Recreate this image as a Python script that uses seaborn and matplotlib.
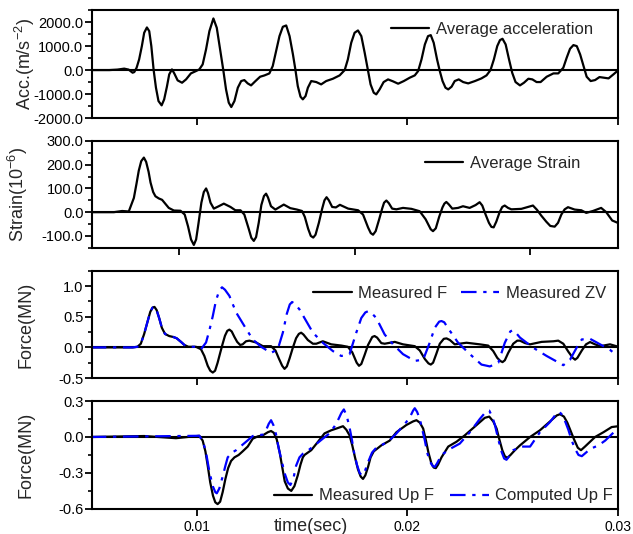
import matplotlib
matplotlib.use('Agg')
from matplotlib import pyplot as plt
from matplotlib.ticker import AutoMinorLocator, FormatStrFormatter, NullFormatter
import seaborn as sns

# ---- data ----
acc_t = [0.00495, 0.00583, 0.00622, 0.00654, 0.00675, 0.00694, 0.00702, 0.00713, 0.00725, 0.00738,
         0.00749, 0.00762, 0.00773, 0.00783, 0.00794, 0.00805, 0.00817, 0.00832, 0.00844, 0.00857,
         0.00868, 0.00881, 0.00892, 0.00908, 0.00929, 0.00948, 0.00971, 0.00995, 0.01011, 0.01027,
         0.01043, 0.01059, 0.01078, 0.01094, 0.01110, 0.01125, 0.01138, 0.01151, 0.01163, 0.01178,
         0.01194, 0.01210, 0.01225, 0.01241, 0.01257, 0.01278, 0.01300, 0.01321, 0.01344, 0.01360,
         0.01376, 0.01392, 0.01408, 0.01424, 0.01440, 0.01456, 0.01468, 0.01479, 0.01492, 0.01503,
         0.01516, 0.01527, 0.01543, 0.01567, 0.01590, 0.01614, 0.01646, 0.01678, 0.01702, 0.01717,
         0.01733, 0.01749, 0.01765, 0.01781, 0.01797, 0.01813, 0.01825, 0.01840, 0.01852, 0.01868,
         0.01887, 0.01908, 0.01932, 0.01956, 0.01983, 0.02011, 0.02035, 0.02051, 0.02067, 0.02083,
         0.02098, 0.02111, 0.02125, 0.02141, 0.02154, 0.02167, 0.02181, 0.02194, 0.02210, 0.02225,
         0.02244, 0.02265, 0.02289, 0.02321, 0.02352, 0.02376, 0.02395, 0.02411, 0.02427, 0.02440,
         0.02452, 0.02467, 0.02483, 0.02498, 0.02514, 0.02535, 0.02554, 0.02575, 0.02594, 0.02614,
         0.02633, 0.02662, 0.02694, 0.02717, 0.02741, 0.02757, 0.02773, 0.02789, 0.02805, 0.02821,
         0.02837, 0.02852, 0.02871, 0.02892, 0.02913, 0.02935, 0.02956, 0.02979, 0.03003]
acc_v = [0, 0, 20, 60, 20, -110, -83, 97, 444, 1000,
         1556, 1778, 1625, 1000, 0, -736, -1292, -1472, -1222, -694,
         -180, 28, -139, -430, -528, -389, -139, -42, 28, 236,
         861, 1625, 2153, 1764, 861, 0, -806, -1361, -1542, -1292,
         -736, -458, -417, -556, -639, -458, -278, -222, -139, 167,
         792, 1417, 1806, 1861, 1417, 653, 0, -667, -1111, -1222,
         -1083, -736, -458, -500, -597, -458, -361, -222, 0, 444,
         1139, 1556, 1653, 1417, 722, -42, -597, -944, -1014, -806,
         -500, -389, -472, -569, -458, -319, -222, -42, 444, 1069,
         1417, 1458, 1139, 444, -42, -458, -736, -806, -694, -458,
         -389, -500, -556, -458, -347, -222, 0, 444, 1000, 1250,
         1306, 1069, 444, -111, -500, -639, -528, -361, -389, -500,
         -500, -278, -139, -139, 97, 514, 889, 1042, 1000, 653,
         167, -278, -458, -417, -292, -319, -347, -181, 0]

strain_t = [0.00497, 0.00626, 0.00673, 0.00711, 0.00740, 0.00755, 0.00768, 0.00782, 0.00797, 0.00810,
            0.00824, 0.00835, 0.00850, 0.00863, 0.00882, 0.00901, 0.00920, 0.00939, 0.00968, 0.01006,
            0.01030, 0.01049, 0.01066, 0.01082, 0.01095, 0.01108, 0.01125, 0.01139, 0.01152, 0.01163,
            0.01177, 0.01196, 0.01224, 0.01253, 0.01291, 0.01319, 0.01348, 0.01370, 0.01395, 0.01410,
            0.01424, 0.01437, 0.01452, 0.01467, 0.01482, 0.01494, 0.01505, 0.01522, 0.01547, 0.01595,
            0.01632, 0.01670, 0.01699, 0.01715, 0.01734, 0.01749, 0.01763, 0.01776, 0.01795, 0.01814,
            0.01827, 0.01839, 0.01852, 0.01871, 0.01892, 0.01915, 0.01962, 0.02019, 0.02047, 0.02076,
            0.02091, 0.02104, 0.02119, 0.02139, 0.02156, 0.02167, 0.02180, 0.02194, 0.02213, 0.02237,
            0.02275, 0.02323, 0.02370, 0.02404, 0.02433, 0.02446, 0.02462, 0.02481, 0.02500, 0.02511,
            0.02522, 0.02536, 0.02556, 0.02589, 0.02617, 0.02655, 0.02689, 0.02712, 0.02727, 0.02746,
            0.02765, 0.02779, 0.02792, 0.02807, 0.02826, 0.02841, 0.02855, 0.02874, 0.02893, 0.02950,
            0.02988, 0.03016, 0.03039, 0.03064, 0.03092, 0.03115, 0.03140, 0.03159, 0.03178, 0.03197,
            0.03216, 0.03254, 0.03292, 0.03320, 0.03358, 0.03405, 0.03434, 0.03468, 0.03500]
strain_v = [0, 0, 5, 3, 60, 120, 175, 215, 230, 212,
            170, 125, 85, 67, 58, 52, 35, 18, 7, 6,
            -10, -60, -115, -138, -115, -50, 40, 85, 100, 80,
            40, 15, 25, 36, 22, 8, 8, -10, -70, -108,
            -121, -105, -45, 30, 68, 78, 62, 25, 11, 32,
            17, 11, 5, -20, -70, -100, -107, -95, -45, 15,
            50, 63, 50, 22, 20, 31, 15, 8, -10, -65,
            -88, -95, -80, -30, 15, 40, 49, 38, 15, 12,
            18, 14, 4, -30, -72, -80, -68, -20, 20, 36,
            43, 33, 15, 18, 25, 18, 30, 42, 28, -10,
            -45, -62, -64, -40, 0, 22, 28, 18, 12, 14,
            22, 28, 10, -15, -40, -58, -61, -45, -10, 12,
            21, 11, 8, -3, 5, 18, 0, -35, -45]

f_t = [0.00495, 0.00694, 0.00717, 0.00733, 0.00749, 0.00765, 0.00778, 0.00789, 0.00798, 0.00808,
       0.00821, 0.00833, 0.00848, 0.00868, 0.00887, 0.00903, 0.00924, 0.00940, 0.00959, 0.00995,
       0.01019, 0.01035, 0.01051, 0.01063, 0.01075, 0.01086, 0.01098, 0.01111, 0.01122, 0.01133,
       0.01144, 0.01154, 0.01165, 0.01178, 0.01191, 0.01205, 0.01217, 0.01233, 0.01249, 0.01281,
       0.01313, 0.01352, 0.01373, 0.01389, 0.01405, 0.01416, 0.01427, 0.01440, 0.01456, 0.01471,
       0.01484, 0.01495, 0.01506, 0.01527, 0.01551, 0.01567, 0.01598, 0.01638, 0.01686, 0.01717,
       0.01738, 0.01759, 0.01770, 0.01781, 0.01797, 0.01813, 0.01833, 0.01844, 0.01856, 0.01876,
       0.01892, 0.01940, 0.01979, 0.02035, 0.02059, 0.02083, 0.02100, 0.02111, 0.02122, 0.02138,
       0.02154, 0.02173, 0.02186, 0.02202, 0.02225, 0.02281, 0.02344, 0.02384, 0.02408, 0.02427,
       0.02441, 0.02452, 0.02463, 0.02479, 0.02503, 0.02522, 0.02535, 0.02559, 0.02583, 0.02638,
       0.02694, 0.02717, 0.02741, 0.02765, 0.02786, 0.02797, 0.02808, 0.02829, 0.02849, 0.02868,
       0.02892, 0.02916, 0.02963, 0.03003]
f_v = [0, 0, 0.01, 0.06, 0.22, 0.42, 0.58, 0.65, 0.66, 0.61,
       0.47, 0.32, 0.22, 0.185, 0.17, 0.15, 0.09, 0.04, 0.01, 0.01,
       -0.03, -0.14, -0.30, -0.38, -0.41, -0.38, -0.25, -0.08, 0.06, 0.19,
       0.27, 0.29, 0.26, 0.17, 0.09, 0.04, 0.05, 0.10, 0.11, 0.08,
       0.02, 0.02, -0.05, -0.18, -0.30, -0.35, -0.31, -0.18, 0.0, 0.15,
       0.22, 0.24, 0.21, 0.12, 0.06, 0.06, 0.10, 0.05, 0.03, 0.01,
       -0.08, -0.25, -0.30, -0.27, -0.12, 0.04, 0.17, 0.185, 0.16, 0.07,
       0.06, 0.09, 0.05, 0.02, -0.05, -0.19, -0.26, -0.28, -0.25, -0.10,
       0.06, 0.14, 0.147, 0.12, 0.05, 0.076, 0.05, 0.03, -0.06, -0.17,
       -0.22, -0.24, -0.21, -0.09, 0.06, 0.11, 0.11, 0.07, 0.05, 0.09,
       0.10, 0.11, 0.06, -0.07, -0.17, -0.20, -0.17, -0.05, 0.05, 0.087,
       0.05, 0.02, 0.05, 0.01]

zv_t = [0.00495, 0.00694, 0.00717, 0.00733, 0.00749, 0.00765, 0.00778, 0.00789, 0.00798, 0.00808,
        0.00821, 0.00833, 0.00848, 0.00868, 0.00887, 0.00903, 0.00924, 0.00940, 0.00959, 0.00995,
        0.01019, 0.01043, 0.01059, 0.01075, 0.01090, 0.01106, 0.01119, 0.01133, 0.01154, 0.01186,
        0.01225, 0.01265, 0.01305, 0.01352, 0.01384, 0.01408, 0.01427, 0.01441, 0.01452, 0.01465,
        0.01487, 0.01519, 0.01551, 0.01598, 0.01646, 0.01686, 0.01725, 0.01757, 0.01781, 0.01800,
        0.01813, 0.01827, 0.01852, 0.01892, 0.01932, 0.01979, 0.02035, 0.02075, 0.02106, 0.02130,
        0.02151, 0.02162, 0.02175, 0.02202, 0.02241, 0.02297, 0.02352, 0.02392, 0.02432, 0.02463,
        0.02489, 0.02500, 0.02513, 0.02535, 0.02598, 0.02662, 0.02741, 0.02773, 0.02805, 0.02829,
        0.02868, 0.02916, 0.02963, 0.03003]
zv_v = [0, 0, 0.01, 0.06, 0.22, 0.42, 0.58, 0.65, 0.66, 0.61,
        0.47, 0.32, 0.22, 0.185, 0.17, 0.15, 0.09, 0.04, 0.01, 0.01,
        -0.03, 0.08, 0.28, 0.51, 0.76, 0.93, 0.98, 0.94, 0.84, 0.57,
        0.35, 0.13, 0.01, -0.09, -0.03, 0.24, 0.55, 0.70, 0.74, 0.71,
        0.62, 0.43, 0.24, 0.076, -0.06, -0.14, -0.11, 0.24, 0.48, 0.57,
        0.59, 0.57, 0.48, 0.21, 0.05, -0.11, -0.22, -0.2, 0.076, 0.32,
        0.42, 0.43, 0.41, 0.27, 0.076, -0.11, -0.28, -0.31, -0.25, 0.076,
        0.26, 0.28, 0.25, 0.16, -0.005, -0.14, -0.29, -0.2, 0.0, 0.13,
        0.14, 0.05, -0.04, -0.15]

upf_t = [0.00495, 0.00749, 0.00900, 0.01011, 0.01027, 0.01040, 0.01051, 0.01063, 0.01076, 0.01087,
         0.01098, 0.01110, 0.01122, 0.01135, 0.01148, 0.01162, 0.01178, 0.01198, 0.01217, 0.01241,
         0.01265, 0.01289, 0.01313, 0.01337, 0.01352, 0.01365, 0.01379, 0.01392, 0.01405, 0.01417,
         0.01432, 0.01448, 0.01463, 0.01479, 0.01492, 0.01503, 0.01511, 0.01543, 0.01575, 0.01606,
         0.01638, 0.01670, 0.01694, 0.01710, 0.01725, 0.01738, 0.01751, 0.01765, 0.01778, 0.01789,
         0.01800, 0.01813, 0.01825, 0.01840, 0.01876, 0.01916, 0.01948, 0.01995, 0.02027, 0.02043,
         0.02059, 0.02075, 0.02087, 0.02100, 0.02114, 0.02125, 0.02135, 0.02146, 0.02162, 0.02194,
         0.02233, 0.02273, 0.02329, 0.02368, 0.02389, 0.02408, 0.02424, 0.02437, 0.02451, 0.02463,
         0.02475, 0.02490, 0.02511, 0.02535, 0.02583, 0.02630, 0.02678, 0.02710, 0.02725, 0.02744,
         0.02760, 0.02776, 0.02792, 0.02810, 0.02825, 0.02844, 0.02868, 0.02892, 0.02932, 0.02971,
         0.03003]
upf_v = [0, 0.008, -0.01, 0.01, -0.03, -0.12, -0.24, -0.38, -0.49, -0.545,
         -0.56, -0.54, -0.46, -0.35, -0.26, -0.2, -0.17, -0.15, -0.12, -0.08,
         -0.014, 0.005, 0.014, 0.04, 0.05, 0.035, -0.02, -0.12, -0.25, -0.37,
         -0.43, -0.45, -0.41, -0.32, -0.23, -0.17, -0.15, -0.11, -0.04, 0.03,
         0.056, 0.075, 0.09, 0.06, 0.014, -0.07, -0.17, -0.27, -0.33, -0.35,
         -0.32, -0.25, -0.17, -0.12, -0.07, -0.03, 0.04, 0.10, 0.13, 0.14,
         0.12, 0.07, -0.02, -0.13, -0.22, -0.255, -0.26, -0.23, -0.17, -0.08,
         -0.04, 0.014, 0.10, 0.16, 0.17, 0.13, 0.07, -0.02, -0.11, -0.16,
         -0.175, -0.15, -0.11, -0.07, 0.0, 0.056, 0.13, 0.18, 0.19, 0.17,
         0.12, 0.05, -0.02, -0.09, -0.11, -0.08, -0.04, 0.0, 0.04, 0.083,
         0.09]

cup_t = [0.00495, 0.01011, 0.01030, 0.01046, 0.01059, 0.01075, 0.01087, 0.01094, 0.01106, 0.01122,
         0.01135, 0.01146, 0.01167, 0.01186, 0.01233, 0.01265, 0.01313, 0.01329, 0.01341, 0.01352,
         0.01363, 0.01376, 0.01389, 0.01400, 0.01416, 0.01432, 0.01444, 0.01459, 0.01471, 0.01487,
         0.01503, 0.01519, 0.01559, 0.01598, 0.01630, 0.01654, 0.01670, 0.01686, 0.01698, 0.01711,
         0.01725, 0.01737, 0.01746, 0.01760, 0.01773, 0.01784, 0.01797, 0.01813, 0.01832, 0.01852,
         0.01908, 0.01948, 0.01995, 0.02016, 0.02027, 0.02035, 0.02046, 0.02059, 0.02071, 0.02083,
         0.02094, 0.02106, 0.02119, 0.02130, 0.02141, 0.02162, 0.02202, 0.02249, 0.02297, 0.02344,
         0.02368, 0.02381, 0.02389, 0.02403, 0.02416, 0.02432, 0.02448, 0.02460, 0.02471, 0.02484,
         0.02503, 0.02543, 0.02583, 0.02630, 0.02678, 0.02706, 0.02722, 0.02738, 0.02752, 0.02765,
         0.02781, 0.02797, 0.02813, 0.02829, 0.02849, 0.02868, 0.02908, 0.02940, 0.02979]
cup_v = [0, 0.01, -0.04, -0.16, -0.29, -0.41, -0.46, -0.47, -0.43, -0.33,
         -0.24, -0.17, -0.13, -0.11, -0.04, 0.008, 0.02, 0.06, 0.11, 0.14,
         0.10, 0.02, -0.10, -0.18, -0.30, -0.38, -0.40, -0.34, -0.24, -0.17,
         -0.14, -0.125, -0.07, -0.014, 0.03, 0.09, 0.14, 0.20, 0.23, 0.18,
         0.08, -0.03, -0.125, -0.23, -0.30, -0.32, -0.29, -0.21, -0.13, -0.09,
         -0.04, 0.03, 0.125, 0.18, 0.22, 0.24, 0.21, 0.15, 0.06, -0.03,
         -0.13, -0.20, -0.24, -0.25, -0.22, -0.15, -0.10, -0.055, 0.04, 0.15,
         0.20, 0.22, 0.22, 0.17, 0.10, -0.02, -0.125, -0.18, -0.19, -0.16,
         -0.11, -0.08, -0.08, 0.04, 0.125, 0.19, 0.21, 0.18, 0.12, 0.06,
         -0.03, -0.10, -0.15, -0.16, -0.13, -0.10, -0.07, -0.03, 0.036]

x_ticks = [0.01, 0.02, 0.03]
x_tick_labels = ['0.01', '0.02', '0.03']

sns.set_theme(style='ticks', rc={
    'axes.linewidth': 1.5, 'xtick.major.width': 1.3, 'ytick.major.width': 1.3,
    'ytick.minor.width': 1.2, 'xtick.major.size': 5, 'ytick.major.size': 5,
    'ytick.minor.size': 3, 'xtick.color': 'black', 'ytick.color': 'black',
    'axes.edgecolor': 'black', 'mathtext.default': 'regular',
    'lines.solid_joinstyle': 'round', 'lines.dash_joinstyle': 'round'})
plt.rcParams['font.family'] = ['Liberation Sans', 'DejaVu Sans']

fig = plt.figure(figsize=(6.33, 5.34), dpi=100)
L, W = 0.145, 0.831
ax1 = fig.add_axes([L, 0.779, W, 0.202])
ax2 = fig.add_axes([L, 0.536, W, 0.200])
ax3 = fig.add_axes([L, 0.292, W, 0.201])
ax4 = fig.add_axes([L, 0.047, W, 0.202])

dashdot = (0, (7, 3, 1.5, 3))

sns.lineplot(x=acc_t, y=acc_v, color='black', lw=1.6, ax=ax1, label='Average acceleration')
sns.lineplot(x=strain_t, y=strain_v, color='black', lw=1.6, ax=ax2, label='Average Strain')
sns.lineplot(x=f_t, y=f_v, color='black', lw=1.6, ax=ax3, label='Measured F')
sns.lineplot(x=zv_t, y=zv_v, color='blue', lw=1.6, linestyle=dashdot, ax=ax3, label='Measured ZV')
sns.lineplot(x=upf_t, y=upf_v, color='black', lw=1.6, ax=ax4, label='Measured Up F')
sns.lineplot(x=cup_t, y=cup_v, color='blue', lw=1.6, linestyle=dashdot, ax=ax4, label='Computed Up F')

settings = [
    (ax1, (-2000, 2500), [-2000, -1000, 0, 1000, 2000], r'Acc.(m/s$^{-2}$)', (0.005, 0.03), -0.105),
    (ax2, (-150, 300), [-100, 0, 100, 200, 300], r'Strain(10$^{-6}$)', (0.005, 0.035), -0.118),
    (ax3, (-0.5, 1.25), [-0.5, 0, 0.5, 1.0], 'Force(MN)', (0.005, 0.03), -0.108),
    (ax4, (-0.6, 0.3), [-0.6, -0.3, 0, 0.3], 'Force(MN)', (0.005, 0.03), -0.108),
]
for ax, ylim, yt, ylab, xlim, lx in settings:
    ax.axhline(0, color='black', lw=1.5, zorder=1)
    ax.set_xlim(*xlim)
    ax.set_ylim(*ylim)
    ax.set_yticks(yt)
    ax.yaxis.set_minor_locator(AutoMinorLocator(2))
    ax.yaxis.set_major_formatter(FormatStrFormatter('%.1f'))
    ax.set_xticks(x_ticks)
    ax.tick_params(axis='y', labelsize=10.5, pad=1)
    ax.tick_params(axis='x', labelsize=10, pad=3)
    ax.set_ylabel(ylab, fontsize=13)
    ax.yaxis.set_label_coords(lx, 0.5)
    ax.set_xlabel('')
    for s in ax.spines.values():
        s.set_visible(True)
    if ax is not ax4:
        ax.xaxis.set_major_formatter(NullFormatter())

ax4.set_xticklabels(x_tick_labels)
ax4.set_xlabel('time(sec)', fontsize=13)
ax4.xaxis.set_label_coords(0.416, -0.08)

leg_kw = dict(frameon=False, fontsize=12, handlelength=2.3, handletextpad=0.4,
              borderaxespad=0.3)
ax1.legend(loc='upper right', bbox_to_anchor=(0.975, 1.0), **leg_kw)
ax2.legend(loc='upper right', bbox_to_anchor=(0.951, 0.97), **leg_kw)
ax3.legend(loc='upper right', ncol=2, columnspacing=0.8, bbox_to_anchor=(1.0, 0.97), **leg_kw)
ax4.legend(loc='lower right', ncol=2, columnspacing=1.0, bbox_to_anchor=(1.013, -0.057), **leg_kw)

fig.savefig('out.png', dpi=100)
